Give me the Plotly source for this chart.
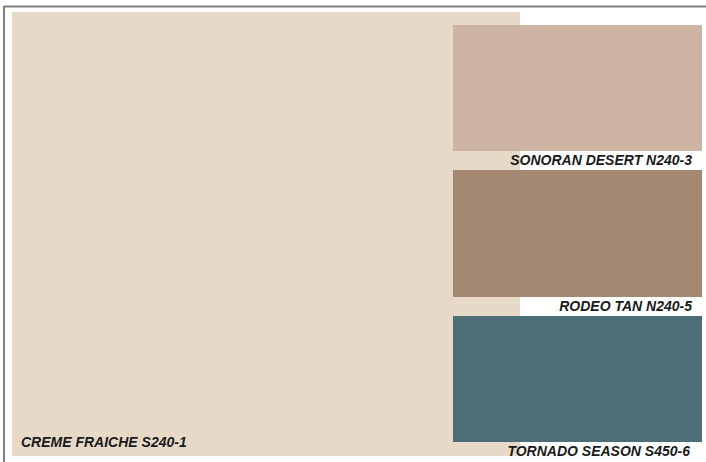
import plotly.graph_objects as go

# Paint swatch data
names = ["CREME FRAICHE S240-1", "SONORAN DESERT N240-3", "RODEO TAN N240-5", "TORNADO SEASON S450-6"]
colors = ["#E7D9C8", "#CEB4A3", "#A48872", "#4B6E77"]

# Layout geometry (pixel space)
W, H = 706, 462
big_box = (12, 520, 12, 456)            # x0, x1, y0, y1
small_boxes = [(453, 702, 25, 151), (453, 702, 170, 297), (453, 702, 316, 442)]
label_pos = [(21, 443, "left"), (692, 161, "right"), (692, 307, "right"), (690, 452, "right")]

fig = go.Figure()
shapes = []
boxes = [big_box] + small_boxes
for (x0, x1, y0, y1), c in zip(boxes, colors):
    shapes.append(dict(type="rect", xref="x", yref="y", x0=x0, x1=x1, y0=y0, y1=y1,
                       fillcolor=c, line=dict(width=0), layer="below"))
# frame lines
shapes.append(dict(type="line", xref="x", yref="y", x0=4, x1=W, y0=6.5, y1=6.5,
                   line=dict(color="#7F7F7F", width=2)))
shapes.append(dict(type="line", xref="x", yref="y", x0=4, x1=4, y0=6, y1=H,
                   line=dict(color="#7F7F7F", width=2)))

for name, (x, y, anchor) in zip(names, label_pos):
    fig.add_trace(go.Scatter(
        x=[x], y=[y], mode="text", text=[name],
        textposition="middle right" if anchor == "left" else "middle left",
        textfont=dict(family="Liberation Sans Narrow, Arial Narrow, Liberation Sans, sans-serif",
                      size=14, color="#1a1a1a", weight="bold", style="italic"),
        hoverinfo="skip", showlegend=False))

fig.update_layout(
    width=W, height=H, margin=dict(l=0, r=0, t=0, b=0),
    paper_bgcolor="white", plot_bgcolor="white", shapes=shapes,
    xaxis=dict(range=[0, W], visible=False, fixedrange=True),
    yaxis=dict(range=[H, 0], visible=False, fixedrange=True),
    showlegend=False,
)
fig.write_html("out.html", config={"displayModeBar": False},
               post_script="document.body.style.margin='0';document.body.style.overflow='hidden';")
